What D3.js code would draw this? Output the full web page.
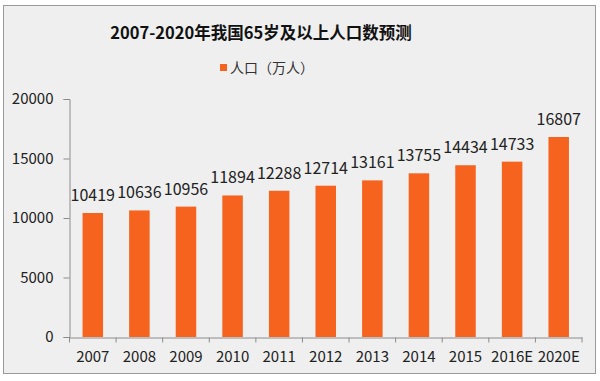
<!DOCTYPE html>
<html lang="zh">
<head>
<meta charset="UTF-8">
<title>2007-2020年我国65岁及以上人口数预测</title>
<script src="https://d3js.org/d3.v7.min.js"></script>
<style>
  body { margin: 0; background: #fff; }
  text { font-family: "Noto Sans CJK SC", "Noto Sans", sans-serif; }
</style>
</head>
<body>
<script>
// data
const years = ["2007", "2008", "2009", "2010", "2011", "2012", "2013", "2014", "2015", "2016E", "2020E"];
const population = [10419, 10636, 10956, 11894, 12288, 12714, 13161, 13755, 14434, 14733, 16807];
const yTicks = [0, 5000, 10000, 15000, 20000];
const title = "2007-2020年我国65岁及以上人口数预测";
const seriesName = "人口（万人）";

const W = 600, H = 381;
const barColor = "#f5631f";

const svg = d3.select("body").append("svg")
    .attr("width", W)
    .attr("height", H);

// frame
svg.append("rect")
    .attr("x", 3.5).attr("y", 5.5)
    .attr("width", 592).attr("height", 368)
    .attr("fill", "#efefef")
    .attr("stroke", "#9a9a9a");

let x = d3.scaleBand()
    .domain(years)
    .range([69.5, 582])
    .paddingInner(0.56)
    .paddingOuter(0.28);

let y = d3.scaleLinear()
    .domain([0, 20000])
    .range([337, 99]);

// y axis
let yAxis = svg.append("g")
    .attr("transform", "translate(69.5,0)")
    .call(d3.axisLeft(y).tickValues(yTicks).tickFormat(d3.format("d")).tickSize(6).tickPadding(10));
yAxis.select(".domain").attr("stroke", "#8c8c8c");
yAxis.selectAll(".tick line").attr("stroke", "#8c8c8c");
yAxis.selectAll(".tick text")
    .attr("fill", "#222")
    .style("font-size", "15px");

// x axis line + ticks at band boundaries
let xAxis = svg.append("g")
    .attr("transform", "translate(0,337.5)")
    .call(d3.axisBottom(x).tickSize(0).tickPadding(14));
xAxis.select(".domain").attr("stroke", "#8c8c8c");
xAxis.selectAll(".tick text")
    .attr("fill", "#222")
    .style("font-size", "15px");

const step = x.step();
const bounds = years.map(d => x(d) - step * x.paddingInner() / 2).concat([x.range()[1]]);
xAxis.selectAll(".bound")
    .data(bounds)
    .enter().append("line")
    .attr("class", "bound")
    .attr("x1", d => d).attr("x2", d => d)
    .attr("y1", 0).attr("y2", 5)
    .attr("stroke", "#8c8c8c");

// bars
svg.selectAll(".bar")
    .data(population)
    .enter().append("rect")
    .attr("class", "bar")
    .attr("x", (d, i) => x(years[i]))
    .attr("width", x.bandwidth())
    .attr("y", d => y(d))
    .attr("height", d => y(0) - y(d))
    .attr("fill", barColor);

// value labels
svg.selectAll(".val")
    .data(population)
    .enter().append("text")
    .attr("class", "val")
    .attr("x", (d, i) => x(years[i]) + x.bandwidth() / 2)
    .attr("y", d => y(d) - 12)
    .attr("text-anchor", "middle")
    .attr("fill", "#222")
    .style("font-size", "16px")
    .text(d => d);

// title
svg.append("text")
    .attr("x", 261)
    .attr("y", 39)
    .attr("text-anchor", "middle")
    .attr("fill", "#111")
    .style("font-size", "16.5px")
    .style("font-weight", "bold")
    .text(title);

// legend
svg.append("rect")
    .attr("x", 220).attr("y", 64)
    .attr("width", 7).attr("height", 7)
    .attr("fill", barColor);
svg.append("text")
    .attr("x", 230)
    .attr("y", 73)
    .attr("fill", "#333")
    .style("font-size", "14px")
    .text(seriesName);
</script>
</body>
</html>
